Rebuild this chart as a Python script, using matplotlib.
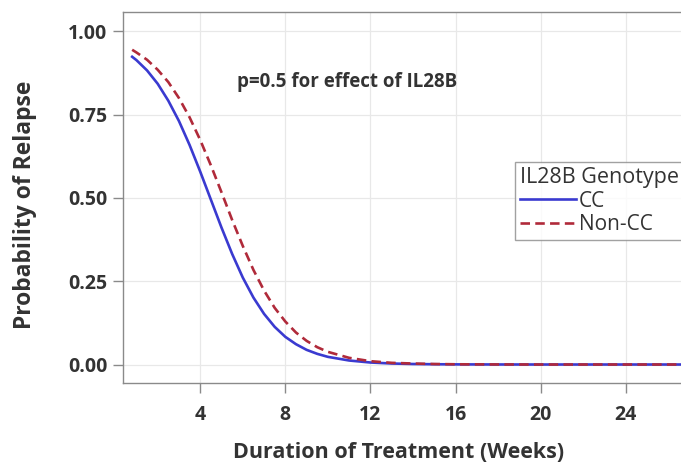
import numpy as np
import matplotlib
matplotlib.use("Agg")
import matplotlib.pyplot as plt

# weeks of treatment and read-off probabilities of relapse
weeks = [0.8, 1.0, 1.5, 2.0, 2.5, 3.0, 3.5, 4.0, 4.5, 5.0, 5.5, 6.0, 6.5, 7.0,
         7.5, 8.0, 8.5, 9.0, 9.5, 10, 11, 12, 13, 14, 15, 16, 18, 20, 22, 24, 26.7]
cc = [0.924, 0.914, 0.883, 0.843, 0.792, 0.731, 0.659, 0.579, 0.495, 0.411,
      0.332, 0.261, 0.201, 0.152, 0.113, 0.083, 0.061, 0.044, 0.032, 0.023,
      0.012, 0.006, 0.003, 0.0015, 0.0008, 0.0004, 0.0001, 0.0, 0.0, 0.0, 0.0]
non_cc = [0.945, 0.937, 0.915, 0.885, 0.848, 0.800, 0.742, 0.674, 0.598, 0.517,
          0.434, 0.356, 0.284, 0.222, 0.170, 0.129, 0.096, 0.071, 0.052, 0.038,
          0.020, 0.010, 0.005, 0.003, 0.0015, 0.0007, 0.0002, 0.0, 0.0, 0.0, 0.0]
xticks = [4, 8, 12, 16, 20, 24]
yticks = [0.0, 0.25, 0.5, 0.75, 1.0]

plt.rcParams['font.family'] = ['Open Sans', 'DejaVu Sans']

fig = plt.figure(figsize=(6.81, 4.62), dpi=100)
ax = fig.add_axes([0.180, 0.171, 0.822, 0.802])

ax.plot(weeks, cc, color='#3a3ad0', lw=1.9, label='CC')
ax.plot(weeks, non_cc, color='#b02a3a', lw=1.9, ls=(0, (3.6, 2.0)), label='Non-CC')

ax.set_xlim(0.35, 26.66)
ax.set_ylim(-0.0555, 1.057)
ax.set_xticks(xticks)
ax.set_yticks(yticks)
ax.set_yticklabels(['%.2f' % v for v in yticks])
ax.grid(True, color='#e8e8e8', lw=0.9)
ax.set_axisbelow(True)
for s in ax.spines.values():
    s.set_color('#8a8a8a')
    s.set_linewidth(1.0)
ax.tick_params(colors='#8a8a8a', length=7, width=1.0, labelcolor='#333333',
               labelsize=14)
ax.tick_params(axis='x', pad=8.5)
ax.tick_params(axis='y', pad=4)
for lab in ax.get_xticklabels() + ax.get_yticklabels():
    lab.set_fontweight('bold')

ax.set_xlabel('Duration of Treatment (Weeks)', fontsize=15.5, fontweight='bold',
              color='#333333')
ax.xaxis.set_label_coords(0.493, -0.158)
ax.set_ylabel('Probability of Relapse', fontsize=16.5, fontweight='bold',
              color='#333333')
ax.yaxis.set_label_coords(-0.152, 0.48)

ax.text(0.205, 0.812, 'p=0.5 for effect of IL28B', transform=ax.transAxes,
        fontsize=13.5, fontweight='bold', color='#333333', va='center')

leg = ax.legend(title='IL28B Genotype', loc='upper right',
                bbox_to_anchor=(1.003, 0.597), fontsize=15, title_fontsize=15.5,
                frameon=True, fancybox=False, handlelength=2.7,
                handletextpad=0.15, borderpad=0.25, labelspacing=0.12,
                borderaxespad=0)
leg.get_frame().set_edgecolor('#8a8a8a')
leg.get_frame().set_linewidth(1.0)
leg._legend_box.align = 'left'
leg._legend_box.sep = 2
for t in leg.get_texts():
    t.set_color('#333333')
leg.get_title().set_color('#333333')

fig.savefig('out.png', dpi=100)
